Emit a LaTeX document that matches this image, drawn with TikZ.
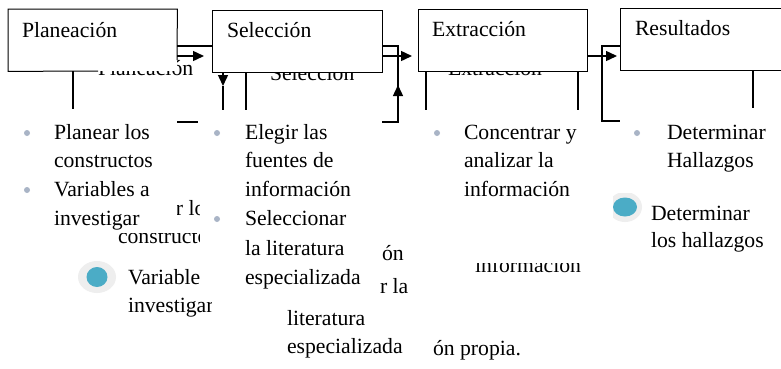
\documentclass[tikz,border=0pt]{standalone}
\usepackage{fontspec}
\setmainfont{Liberation Serif}
\usetikzlibrary{arrows.meta}
\definecolor{bulletgray}{HTML}{A9B4C6}
\definecolor{tealdot}{HTML}{4BACC6}
\definecolor{halo}{HTML}{EEEEEE}
\tikzset{
  txt/.style={anchor=base west, inner sep=0pt, outer sep=0pt, font=\fontsize{21.7}{26}\selectfont},
  boxfill/.style={fill=white, draw=none, anchor=north west, inner sep=0pt},
  boxline/.style={line width=1pt, draw=black},
  thinline/.style={line width=1.1pt},
  conn/.style={line width=1.4pt},
  arr/.style={line width=1.4pt, -{Triangle[length=11pt,width=10pt]}},
  sdot/.style={circle, fill=bulletgray, inner sep=0pt, minimum size=6pt},
}
\begin{document}
\begin{tikzpicture}[x=1pt,y=-1pt]
\clip (0,0) rectangle (781,368);
\fill[white] (0,0) rectangle (781,368);

% ---------- background layer texts ----------
\node[txt] (bgplan) at (98,75) {Planeación};
\node[txt] (bgsel) at (270,80) {Selección};
\node[txt] (bgext) at (448,75) {Extracción};

\begin{scope}
  \clip (177,195) rectangle (199,226);
  \node[txt] (bgp1) at (175.9,215) {r lo};
\end{scope}
\begin{scope}
  \clip (100,233) rectangle (199,256);
  \node[txt] (bgp2) at (118,243) {constructo};
\end{scope}
\fill[halo] (97,277) ellipse [x radius=19, y radius=16];
\fill[tealdot] (97,277) ellipse [x radius=10.5, y radius=10];
\begin{scope}
  \clip (100,260) rectangle (199,292);
  \node[txt] (bgp3) at (128,284) {Variable};
\end{scope}
\begin{scope}
  \clip (100,292) rectangle (211,322);
  \node[txt] (bgp4) at (128,312) {investigar};
\end{scope}

\begin{scope}
  \clip (380,240) rectangle (420,268);
  \node[txt] (bgs1) at (382,260) {ón};
\end{scope}
\begin{scope}
  \clip (380,272) rectangle (420,300);
  \node[txt] (bgs2) at (380,293) {r la};
\end{scope}
\node[txt] (bgs3) at (287,325) {literatura};
\node[txt] (bgs4) at (287,353) {especializada};

\begin{scope}
  \clip (470,263) rectangle (600,285);
  \node[txt] (bge1) at (475,272) {información};
\end{scope}

\begin{scope}
  \clip (613,193) rectangle (660,223);
  \fill[halo] (625,207) ellipse [x radius=17, y radius=15];
  \fill[tealdot] (625,207) ellipse [x radius=12, y radius=9.5];
\end{scope}
\node[txt] (bgr1) at (651,220) {Determinar};
\node[txt] (bgr2) at (651,247) {los hallazgos};

\node[txt] (src) at (433,355) {ón propia.};

% ---------- boxes ----------
\node[boxfill, minimum width=169pt, minimum height=62pt] (plan) at (8,9) {};
\node[boxfill, minimum width=170pt, minimum height=62pt] (sel) at (212,10) {};
\node[boxfill, minimum width=169pt, minimum height=62pt] (ext) at (418,9) {};
\node[boxfill, minimum width=180pt, minimum height=62pt] (res) at (620,8) {};

\draw[boxline] (98,71) -- (plan.south west) -- (plan.north west) -- (plan.north east) -- (177,60);
\draw[boxline] (sel.south west) rectangle (sel.north east);
\draw[boxline] (ext.south west) rectangle (ext.north east);
\draw[boxline] (res.south west) rectangle (res.north east);

\node[txt] (planlbl) at (22,37) {Planeación};
\node[txt] (sellbl) at (227,37) {Selección};
\node[txt] (extlbl) at (432,36) {Extracción};
\node[txt] (reslbl) at (635,35) {Resultados};

% ---------- connectors ----------
\coordinate (pA) at (177,56);  \coordinate (pB) at (204,56);
\coordinate (pC) at (177,46);  \coordinate (pD) at (212,46);
\draw[arr] (pA) -- (pB);
\draw[conn] (pC) -- (pD);

\coordinate (sA) at (382,56);  \coordinate (sB) at (412,56);
\draw[arr] (sA) -- (sB);
\coordinate (sC) at (382,46);  \coordinate (sD) at (398,46);
\coordinate (sE) at (398,122); \coordinate (sF) at (382,122);
\coordinate (sG) at (398,85);
\draw[conn] (sC) -- (sD) -- (sE) -- (sF);
\draw[arr] (sE) -- (sG);

\coordinate (eA) at (587,56);  \coordinate (eB) at (617,56);
\draw[arr] (eA) -- (eB);
\coordinate (rA) at (620,46);  \coordinate (rB) at (602,46);
\coordinate (rC) at (602,121); \coordinate (rD) at (620,121);
\draw[conn] (rA) -- (rB) -- (rC) -- (rD);

\coordinate (dA) at (223,72); \coordinate (dB) at (223,86); \coordinate (dC) at (223,110);
\draw[arr] (dA) -- (dB);
\draw[conn] (dB) -- (dC);

\coordinate (v1a) at (73,71);  \coordinate (v1b) at (73,109);
\coordinate (v2a) at (246,72); \coordinate (v2b) at (246,110);
\coordinate (v3a) at (426,71); \coordinate (v3b) at (426,110);
\coordinate (v4a) at (578,71); \coordinate (v4b) at (578,110);
\coordinate (v5a) at (753,70); \coordinate (v5b) at (753,108);
\draw[thinline] (v1a) -- (v1b);
\draw[thinline] (v2a) -- (v2b);
\draw[thinline] (v3a) -- (v3b);
\draw[thinline] (v4a) -- (v4b);
\draw[thinline] (v5a) -- (v5b);
\coordinate (hA) at (177,122); \coordinate (hB) at (198,122);
\draw[thinline] (hA) -- (hB);

% ---------- front bullet lists ----------
\node[sdot] (d1) at (27,133) {};
\node[sdot] (d2) at (27,190) {};
\node[txt] (f1) at (54,139) {Planear los};
\node[txt] (f2) at (54,167) {constructos};
\node[txt] (f3) at (54,196) {Variables a};
\node[txt] (f4) at (54,225) {investigar};

\node[sdot] (d3) at (217,133) {};
\node[sdot] (d4) at (217,219) {};
\node[txt] (g1) at (245,139) {Elegir las};
\node[txt] (g2) at (245,167) {fuentes de};
\node[txt] (g3) at (245,196) {información};
\node[txt] (g4) at (245,225) {Seleccionar};
\node[txt] (g5) at (245,255) {la literatura};
\node[txt] (g6) at (245,284) {especializada};

\node[sdot] (d5) at (437,133) {};
\node[txt] (h1) at (464,139) {Concentrar y};
\node[txt] (h2) at (464,167) {analizar la};
\node[txt] (h3) at (464,196) {información};

\node[sdot] (d6) at (637,133) {};
\node[txt] (k1) at (667,139) {Determinar};
\node[txt] (k2) at (667,167) {Hallazgos};
\end{tikzpicture}
\end{document}
